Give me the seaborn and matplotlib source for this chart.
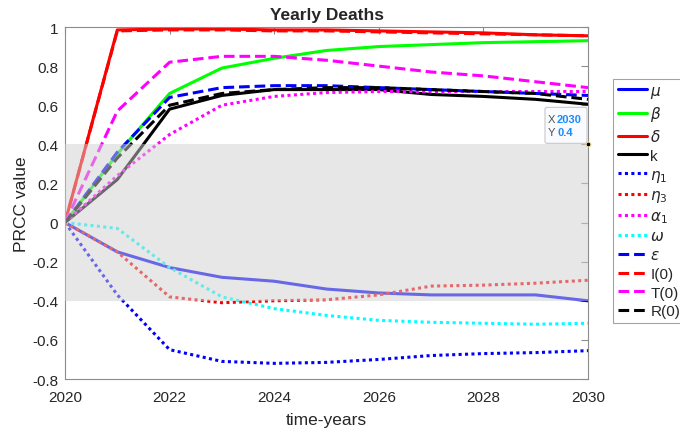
import numpy as np
import pandas as pd
import matplotlib
matplotlib.use("Agg")
import matplotlib.pyplot as plt
import seaborn as sns
from matplotlib.patches import FancyBboxPatch
from matplotlib.transforms import IdentityTransform

# ---- data ----
years = [2020, 2021, 2022, 2023, 2024, 2025, 2026, 2027, 2028, 2029, 2030]
mu     = [0, -0.15, -0.23, -0.28, -0.30, -0.34, -0.36, -0.37, -0.37, -0.37, -0.40]
beta   = [0, 0.35, 0.66, 0.79, 0.84, 0.88, 0.90, 0.91, 0.92, 0.925, 0.93]
delta  = [0, 0.985, 0.99, 0.99, 0.985, 0.985, 0.98, 0.975, 0.97, 0.96, 0.955]
k      = [0, 0.22, 0.58, 0.65, 0.68, 0.68, 0.68, 0.655, 0.645, 0.63, 0.605]
eta1   = [0, -0.37, -0.65, -0.71, -0.72, -0.715, -0.70, -0.68, -0.67, -0.665, -0.655]
eta3   = [0, -0.15, -0.38, -0.41, -0.40, -0.395, -0.37, -0.325, -0.32, -0.31, -0.295]
alpha1 = [0, 0.24, 0.45, 0.60, 0.645, 0.665, 0.67, 0.67, 0.67, 0.67, 0.67]
omega  = [0, -0.03, -0.23, -0.38, -0.44, -0.475, -0.50, -0.51, -0.515, -0.52, -0.515]
eps    = [0, 0.36, 0.64, 0.69, 0.70, 0.70, 0.69, 0.68, 0.67, 0.66, 0.65]
I0     = [0, 0.98, 0.985, 0.985, 0.98, 0.98, 0.975, 0.97, 0.965, 0.96, 0.955]
T0     = [0, 0.57, 0.82, 0.85, 0.85, 0.83, 0.80, 0.77, 0.75, 0.72, 0.69]
R0     = [0, 0.33, 0.60, 0.66, 0.68, 0.69, 0.69, 0.68, 0.67, 0.66, 0.63]

labels = [r"$\mu$", r"$\beta$", r"$\delta$", "k", r"$\eta_1$", r"$\eta_3$",
          r"$\alpha_1$", r"$\omega$", r"$\epsilon$", "I(0)", "T(0)", "R(0)"]
series = [mu, beta, delta, k, eta1, eta3, alpha1, omega, eps, I0, T0, R0]
colors = ["#0000ff", "#00ff00", "#ff0000", "#000000", "#0000ff", "#ff0000",
          "#ff00ff", "#00ffff", "#0000ff", "#ff0000", "#ff00ff", "#000000"]
styles = ["-", "-", "-", "-", ":", ":", ":", ":", "--", "--", "--", "--"]

band_lo, band_hi = -0.4, 0.4
tip_y = 0.4

sns.set_theme(style="white")
plt.rcParams["font.family"] = ["Liberation Sans", "DejaVu Sans"]

fig = plt.figure(figsize=(6.8, 4.31), dpi=100)
ax = fig.add_axes([65/680, 1-380/431, (588-65)/680, (380-28)/431])

dash_map = {"-": (None, None), ":": (1, 1.1), "--": (3.5, 1.6)}
for lab, vals, col, ls in zip(labels, series, colors, styles):
    df = pd.DataFrame({"year": years, "v": vals})
    sns.lineplot(data=df, x="year", y="v", color=col, lw=2.2, ax=ax, label=lab, zorder=2)
    ln = ax.get_lines()[-1]
    if ls == "-":
        ln.set_linestyle("-")
    else:
        ln.set_dashes(dash_map[ls])

ax.axhspan(band_lo, band_hi, color="#d0d0d0", alpha=0.5, lw=0, zorder=3)

ax.set_xlim(years[0], years[-1])
ax.set_ylim(-0.8, 1)
ax.set_xticks(range(2020, 2031, 2))
ax.set_yticks(np.round(np.arange(-0.8, 1.01, 0.2), 1))
ax.set_yticklabels(["-0.8", "-0.6", "-0.4", "-0.2", "0", "0.2", "0.4", "0.6", "0.8", "1"])
ax.tick_params(direction="in", top=True, right=True, length=5, width=0.8,
               color="#8c8c8c", labelsize=11, labelcolor="#262626", pad=5)
ax.tick_params(axis="x", pad=8)
for s in ax.spines.values():
    s.set_color("#8c8c8c")
    s.set_linewidth(0.8)

ax.set_title("Yearly Deaths", fontsize=12.5, fontweight="bold", pad=6)
ax.set_xlabel("time-years", fontsize=12.5, color="#262626", labelpad=6)
ax.set_ylabel("PRCC value", fontsize=12.5, color="#262626", labelpad=2)

handles, labs = ax.get_legend_handles_labels()
leg = ax.legend(handles, labs, loc="upper left", bbox_to_anchor=(613/680, 1-80/431),
                bbox_transform=fig.transFigure, fontsize=11, frameon=True,
                fancybox=False, edgecolor="#8c8c8c", handlelength=1.95,
                handletextpad=0.2, labelspacing=0.31, borderpad=0.3,
                borderaxespad=0)
leg.get_frame().set_linewidth(0.8)

# data tip
ax.plot([years[-1]], [tip_y], "o", ms=3.5, color="black", mec="#f5e6a0", mew=0.8,
        zorder=6, clip_on=False)
fig.canvas.draw()
px, py = ax.transData.transform((years[-1], tip_y))
box = FancyBboxPatch((px-43, py+1), 42, 36, boxstyle="round,pad=0,rounding_size=2",
                     transform=IdentityTransform(), fc="#fafbff", ec="#c8c8c8",
                     lw=0.8, zorder=7)
fig.add_artist(box)
for row, (nm, val) in enumerate([("X", str(years[-1])), ("Y", str(tip_y))]):
    fig.text(px-40, py+25-row*13, nm, transform=IdentityTransform(),
             fontsize=8, color="#505050", va="center", ha="left", zorder=8)
    fig.text(px-31, py+25-row*13, val, transform=IdentityTransform(),
             fontsize=8, color="#1a8cff", fontweight="bold", va="center", ha="left",
             zorder=8)

fig.savefig("out.png", dpi=100)
